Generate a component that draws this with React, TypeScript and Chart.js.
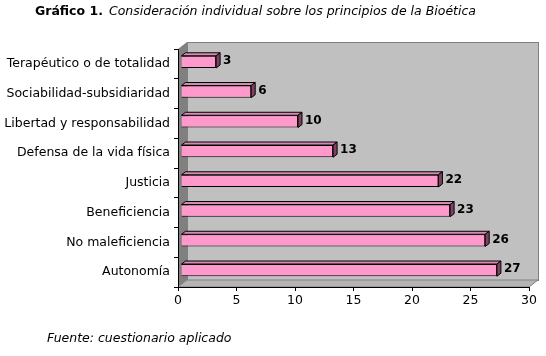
import React, { useEffect, useRef } from 'react';
import { Chart, registerables } from 'chart.js';

Chart.register(...registerables);

const categories = [
  'Terapéutico o de totalidad',
  'Sociabilidad-subsidiaridad',
  'Libertad y responsabilidad',
  'Defensa de la vida física',
  'Justicia',
  'Beneficiencia',
  'No maleficiencia',
  'Autonomía',
];
const values = [3, 6, 10, 13, 22, 23, 26, 27];
const xMin = 0;
const xMax = 30;
const xStep = 5;

const titleBold = 'Gráfico 1.';
const titleItalic = 'Consideración individual sobre los principios de la Bioética';
const sourceText = 'Fuente: cuestionario aplicado';

const FONT = '"DejaVu Sans", Verdana, sans-serif';
const FS = 12.5;
const DX = 9;
const DY = -7;
const BAR_SHIFT_X = 3;
const BAR_SHIFT_Y = -2;
const BAR_DX = 4;
const BAR_DY = -3;

const wallsPlugin = {
  id: 'walls3d',
  beforeDraw(chart: any) {
    const { ctx, chartArea } = chart;
    const { left: L, right: R, top: T, bottom: B } = chartArea;
    ctx.save();
    ctx.fillStyle = '#C0C0C0';
    ctx.fillRect(L + DX, T + DY, R - L, B - T);
    ctx.strokeStyle = '#808080';
    ctx.lineWidth = 1;
    ctx.strokeRect(L + DX + 0.5, T + DY + 0.5, R - L, B - T);
    ctx.fillStyle = '#808080';
    ctx.beginPath();
    ctx.moveTo(L, T);
    ctx.lineTo(L + DX, T + DY);
    ctx.lineTo(L + DX, B + DY);
    ctx.lineTo(L, B);
    ctx.closePath();
    ctx.fill();
    ctx.fillStyle = '#B4B4B4';
    ctx.beginPath();
    ctx.moveTo(L, B);
    ctx.lineTo(L + DX, B + DY);
    ctx.lineTo(R + DX, B + DY);
    ctx.lineTo(R, B);
    ctx.closePath();
    ctx.fill();
    ctx.strokeStyle = '#808080';
    ctx.stroke();
    ctx.restore();
  },
};

const bars3dPlugin = {
  id: 'bars3d',
  beforeDatasetsDraw(chart: any) {
    chart.ctx.save();
    chart.ctx.translate(BAR_SHIFT_X, BAR_SHIFT_Y);
  },
  afterDatasetsDraw(chart: any) {
    const ctx = chart.ctx;
    const meta = chart.getDatasetMeta(0);
    ctx.lineWidth = 1;
    ctx.strokeStyle = '#000';
    meta.data.forEach((el: any) => {
      const x = el.x;
      const base = el.base;
      const top = el.y - el.height / 2;
      const bottom = el.y + el.height / 2;
      ctx.fillStyle = '#D98AB2';
      ctx.beginPath();
      ctx.moveTo(base, top);
      ctx.lineTo(base + BAR_DX, top + BAR_DY);
      ctx.lineTo(x + BAR_DX, top + BAR_DY);
      ctx.lineTo(x, top);
      ctx.closePath();
      ctx.fill();
      ctx.stroke();
      ctx.fillStyle = '#804060';
      ctx.beginPath();
      ctx.moveTo(x, top);
      ctx.lineTo(x + BAR_DX, top + BAR_DY);
      ctx.lineTo(x + BAR_DX, bottom + BAR_DY);
      ctx.lineTo(x, bottom);
      ctx.closePath();
      ctx.fill();
      ctx.stroke();
    });
    ctx.restore();
    ctx.save();
    ctx.font = `bold 12px ${FONT}`;
    ctx.fillStyle = '#000';
    ctx.textAlign = 'left';
    ctx.textBaseline = 'middle';
    meta.data.forEach((el: any, i: number) => {
      const v = chart.data.datasets[0].data[i];
      ctx.fillText(String(v), el.x + BAR_SHIFT_X + BAR_DX + 3, el.y + BAR_SHIFT_Y - 1);
    });
    ctx.restore();
  },
};

const textPlugin = {
  id: 'texts',
  afterDraw(chart: any) {
    const ctx = chart.ctx;
    ctx.save();
    ctx.fillStyle = '#000';
    ctx.textBaseline = 'middle';
    ctx.textAlign = 'left';
    ctx.font = `bold ${FS}px ${FONT}`;
    ctx.fillText(titleBold, 35, 12);
    const w = ctx.measureText(titleBold).width;
    ctx.font = `italic ${FS}px ${FONT}`;
    ctx.fillText(titleItalic, 35 + w + 6, 12);
    ctx.fillText(sourceText, 47, 339);
    ctx.restore();
  },
};

export default function App() {
  const ref = useRef<HTMLCanvasElement | null>(null);
  useEffect(() => {
    if (!ref.current) return;
    const chart = new Chart(ref.current, {
      type: 'bar',
      data: {
        labels: categories,
        datasets: [
          {
            data: values,
            backgroundColor: '#FF99CC',
            borderColor: '#000',
            borderWidth: 1,
            barPercentage: 0.41,
            categoryPercentage: 1,
          },
        ],
      },
      options: {
        indexAxis: 'y',
        responsive: false,
        animation: false,
        devicePixelRatio: 1,
        layout: { padding: { top: 49, right: 17, left: 0, bottom: 0 } },
        plugins: { legend: { display: false }, tooltip: { enabled: false }, title: { display: false } },
        scales: {
          x: {
            min: xMin,
            max: xMax,
            ticks: { stepSize: xStep, color: '#000', font: { family: FONT, size: FS }, padding: 2, maxRotation: 0 },
            grid: { drawOnChartArea: false, drawTicks: true, tickLength: 4, color: '#000' },
            border: { display: true, color: '#000' },
            afterFit: (s: any) => { s.height = 69; },
          },
          y: {
            ticks: { color: '#000', font: { family: FONT, size: FS }, padding: 4 },
            grid: { drawOnChartArea: false, drawTicks: true, tickLength: 4, color: '#000', offset: true },
            border: { display: true, color: '#000' },
            afterFit: (s: any) => { s.width = 178; },
          },
        },
      },
      plugins: [wallsPlugin, bars3dPlugin, textPlugin],
    } as any);
    return () => chart.destroy();
  }, []);
  return (
    <div style={{ position: 'absolute', left: 0, top: 0, width: 546, height: 356, background: '#fff' }}>
      <canvas ref={ref} width={546} height={356} style={{ display: 'block', width: 546, height: 356 }} />
    </div>
  );
}
